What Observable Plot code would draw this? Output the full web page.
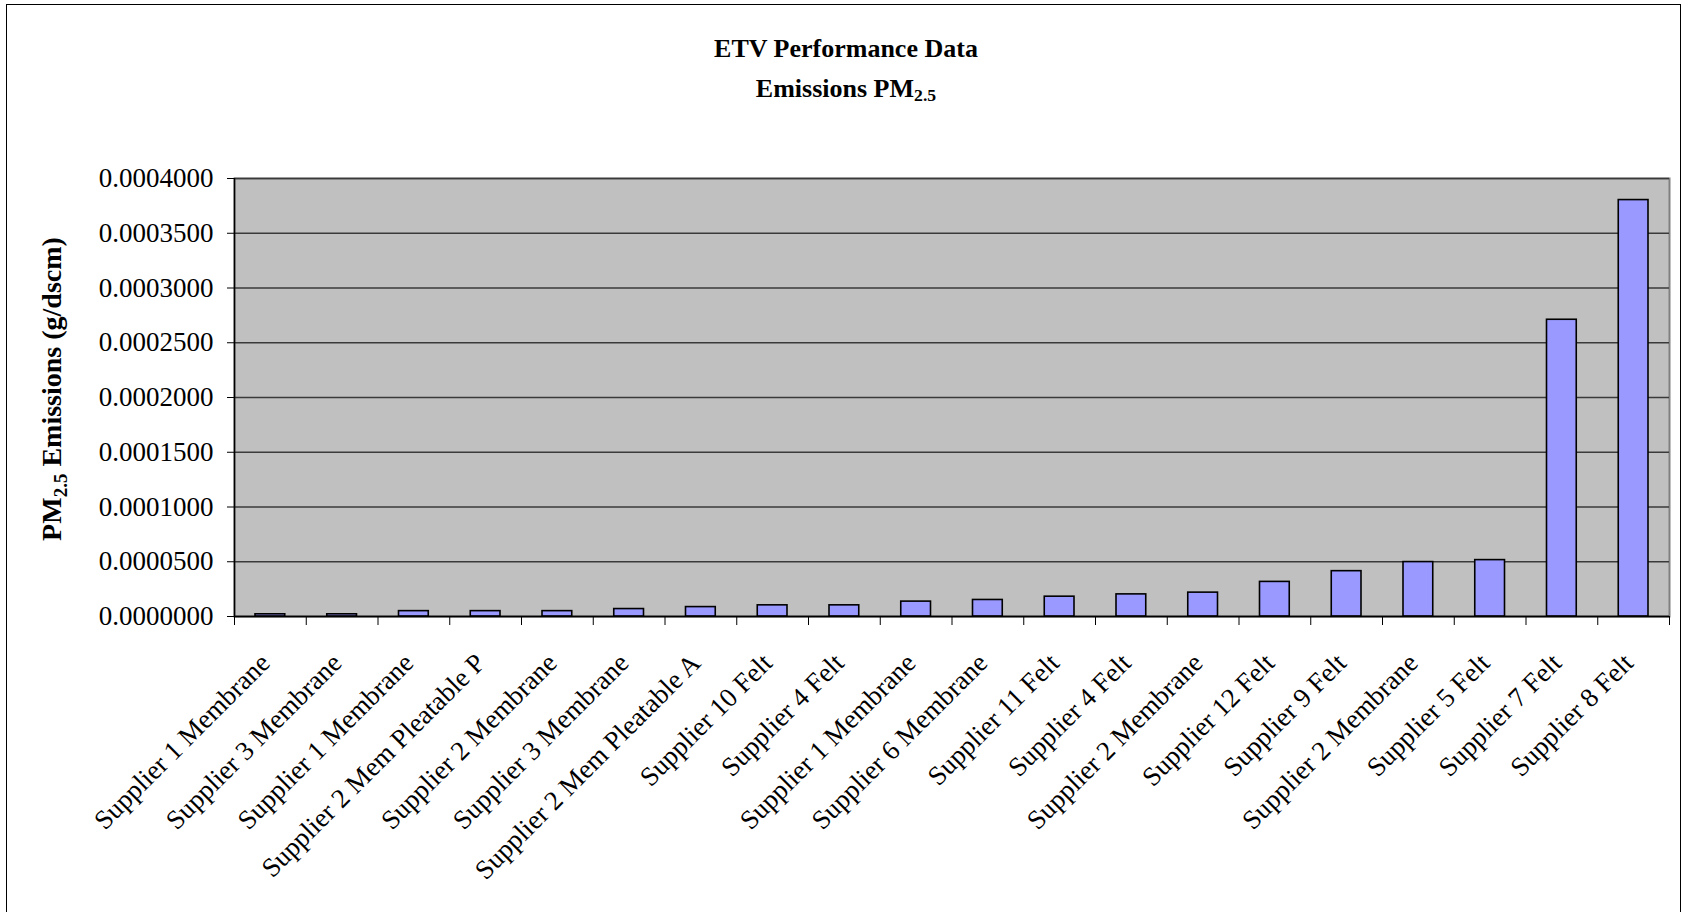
<!DOCTYPE html>
<html>
<head>
<meta charset="utf-8">
<script src="https://cdn.jsdelivr.net/npm/d3@7"></script>
<script src="https://cdn.jsdelivr.net/npm/@observablehq/plot@0.6"></script>
<style>
  html, body { margin: 0; padding: 0; background: #fff; }
  body { width: 1686px; height: 912px; position: relative; overflow: hidden; font-family: 'Liberation Serif', 'Times New Roman', serif; }
  #frame { position: absolute; left: 6px; top: 4px; width: 1675px; height: 940px; border: 1px solid #000; box-sizing: border-box; pointer-events: none; }
  #titles { height: 150px; position: relative; }
  .t { position: absolute; left: 0; width: 1692px; text-align: center; font-weight: bold; font-size: 26px; color: #000; }
  #t1 { top: 34px; }
  #t2 { top: 74px; }
  sub { font-size: 68%; vertical-align: -0.25em; line-height: 0; }
  #chart { position: relative; }
</style>
</head>
<body>
<div id="frame"></div>
<div id="titles">
  <div class="t" id="t1">ETV Performance Data</div>
  <div class="t" id="t2">Emissions PM<sub>2.5</sub></div>
</div>
<div id="chart"></div>
<script>
const categories = [
  "Supplier 1 Membrane", "Supplier 3 Membrane", "Supplier 1 Membrane", "Supplier 2 Mem Pleatable P",
  "Supplier 2 Membrane", "Supplier 3 Membrane", "Supplier 2 Mem Pleatable A", "Supplier 10 Felt",
  "Supplier 4 Felt", "Supplier 1 Membrane", "Supplier 6 Membrane", "Supplier 11 Felt",
  "Supplier 4 Felt", "Supplier 2 Membrane", "Supplier 12 Felt", "Supplier 9 Felt",
  "Supplier 2 Membrane", "Supplier 5 Felt", "Supplier 7 Felt", "Supplier 8 Felt"
];
const values = [
  0.0000020, 0.0000020, 0.0000049, 0.0000049, 0.0000049, 0.0000068, 0.0000086, 0.0000102,
  0.0000102, 0.0000136, 0.0000151, 0.0000181, 0.0000202, 0.0000218, 0.0000316, 0.0000414,
  0.0000497, 0.0000515, 0.0002710, 0.0003803
];
const yTicks = [0, 0.00005, 0.0001, 0.00015, 0.0002, 0.00025, 0.0003, 0.00035, 0.0004];

const data = categories.map((name, i) => ({i, name, value: values[i]}));
const n = categories.length;
const centers = d3.range(n).map(i => i + 0.5);
const bounds = d3.range(n + 1);

const chart = Plot.plot({
  width: 1686,
  height: 762,
  marginLeft: 234,
  marginRight: 17,
  marginTop: 28,
  marginBottom: 296,
  style: {fontFamily: "'Liberation Serif','Times New Roman',serif", fontSize: "27px", color: "#000", background: "transparent"},
  x: {type: "linear", domain: [0, n]},
  y: {domain: [0, 0.0004]},
  marks: [
    Plot.frame({fill: "#c0c0c0", stroke: "#808080", strokeWidth: 2}),
    Plot.gridY(yTicks, {stroke: "#3a3a3a", strokeOpacity: 1, strokeWidth: 1.3}),
    Plot.rectY(data, {x1: d => d.i, x2: d => d.i + 1, y: "value", insetLeft: 21, insetRight: 21, fill: "#9999ff", stroke: "#000", strokeWidth: 1.6}),
    Plot.ruleX([0], {stroke: "#000", strokeWidth: 1.5}),
    Plot.ruleY([0], {stroke: "#000", strokeWidth: 1.5}),
    Plot.axisY(yTicks, {tickFormat: d => d.toFixed(7), tickSize: 7, tickPadding: 14, label: null, fontSize: 27}),
    Plot.axisX(bounds, {tickFormat: () => "", tickSize: 9, label: null}),
    Plot.axisX(centers, {tickFormat: d => categories[Math.floor(d)], tickRotate: -45, tickSize: 0, tickPadding: 42, dx: -5, label: null, fontSize: 27})
  ]
});
document.getElementById("chart").appendChild(chart);

// Y axis title with subscript
const svg = d3.select(chart);
const yt = svg.append("text")
  .attr("transform", "translate(61,239) rotate(-90)")
  .attr("text-anchor", "middle")
  .attr("font-weight", "bold")
  .attr("font-size", 28)
  .attr("fill", "#000");
yt.append("tspan").text("PM");
yt.append("tspan").attr("font-size", 19).attr("dy", 6).text("2.5");
yt.append("tspan").attr("dy", -6).text(" Emissions (g/dscm)");
</script>
</body>
</html>
